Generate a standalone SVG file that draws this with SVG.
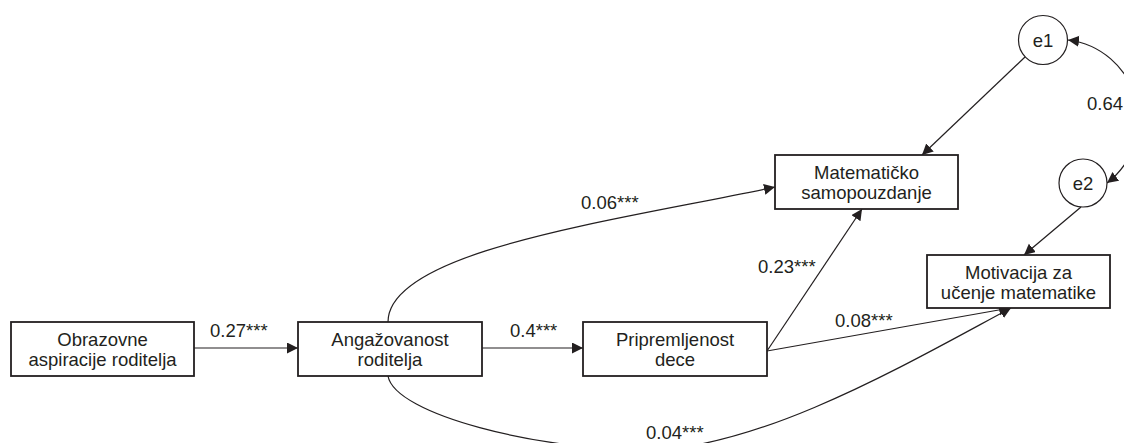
<svg xmlns="http://www.w3.org/2000/svg" width="1124" height="443" viewBox="0 0 1124 443">
<style>
.box{fill:#fff;stroke:#231f20;stroke-width:1.8}
.circ{fill:#fff;stroke:#231f20;stroke-width:1.2}
.t{font-family:"Liberation Sans",Arial,sans-serif;font-size:18.5px;fill:#231f20;text-anchor:middle}
.lbl{font-family:"Liberation Sans",Arial,sans-serif;font-size:18.5px;fill:#231f20}
.ln{fill:none;stroke:#231f20;stroke-width:1.2}
</style>
<defs>
<marker id="ah" markerUnits="userSpaceOnUse" markerWidth="12" markerHeight="12" refX="11" refY="5.5" orient="auto-start-reverse">
<path d="M0,0 L11,5.5 L0,11 z" fill="#231f20"/>
</marker>
</defs>
<rect width="1124" height="443" fill="#fff"/>
<g id="connectors">
<path class="ln" d="M194,348 L298,348" marker-end="url(#ah)"/>
<path class="ln" d="M482,348 L583,348" marker-end="url(#ah)"/>
<path class="ln" d="M388,322 C388,250 620,220 775,187" marker-end="url(#ah)"/>
<path class="ln" d="M767,351 L862,209" marker-end="url(#ah)"/>
<path class="ln" d="M767,351 L1010,308" marker-end="url(#ah)"/>
<path class="ln" d="M388,376 C395,415 540,450 645,450 C760,450 910,362 1011,308" marker-end="url(#ah)"/>
<path class="ln" d="M1025,57 L922,155" marker-end="url(#ah)"/>
<path class="ln" d="M1081,207 L1024,255" marker-end="url(#ah)"/>
<path class="ln" d="M1068,40 A80,80 0 0 1 1107,183" marker-start="url(#ah)" marker-end="url(#ah)"/>
<text class="lbl" x="210" y="337">0.27***</text>
<text class="lbl" x="510" y="337">0.4***</text>
<text class="lbl" x="581" y="209">0.06***</text>
<text class="lbl" x="758" y="273">0.23***</text>
<text class="lbl" x="835" y="327">0.08***</text>
<text class="lbl" x="646" y="439">0.04***</text>
<text class="lbl" x="1087" y="110">0.64</text>
</g>
<g id="n_obrazovne">
<rect class="box" x="11" y="322" width="183" height="54"/>
<text class="t" x="102.5" y="346">Obrazovne</text>
<text class="t" x="102.5" y="366">aspiracije roditelja</text>
</g>
<g id="n_angazovanost">
<rect class="box" x="298" y="322" width="184" height="54"/>
<text class="t" x="390" y="346">Angažovanost</text>
<text class="t" x="390" y="366">roditelja</text>
</g>
<g id="n_pripremljenost">
<rect class="box" x="583" y="322" width="184" height="54"/>
<text class="t" x="675" y="346">Pripremljenost</text>
<text class="t" x="675" y="366">dece</text>
</g>
<g id="n_matematicko">
<rect class="box" x="775" y="155" width="183" height="54"/>
<text class="t" x="866.5" y="179">Matematičko</text>
<text class="t" x="866.5" y="199">samopouzdanje</text>
</g>
<g id="n_motivacija">
<rect class="box" x="927" y="255" width="183" height="53"/>
<text class="t" x="1018.5" y="278.5">Motivacija za</text>
<text class="t" x="1018.5" y="298.5">učenje matematike</text>
</g>
<g id="n_e1">
<circle class="circ" cx="1043" cy="40" r="24.5"/>
<text class="t" x="1043" y="46.5">e1</text>
</g>
<g id="n_e2">
<circle class="circ" cx="1083" cy="183" r="24"/>
<text class="t" x="1083" y="189.5">e2</text>
</g>
</svg>
